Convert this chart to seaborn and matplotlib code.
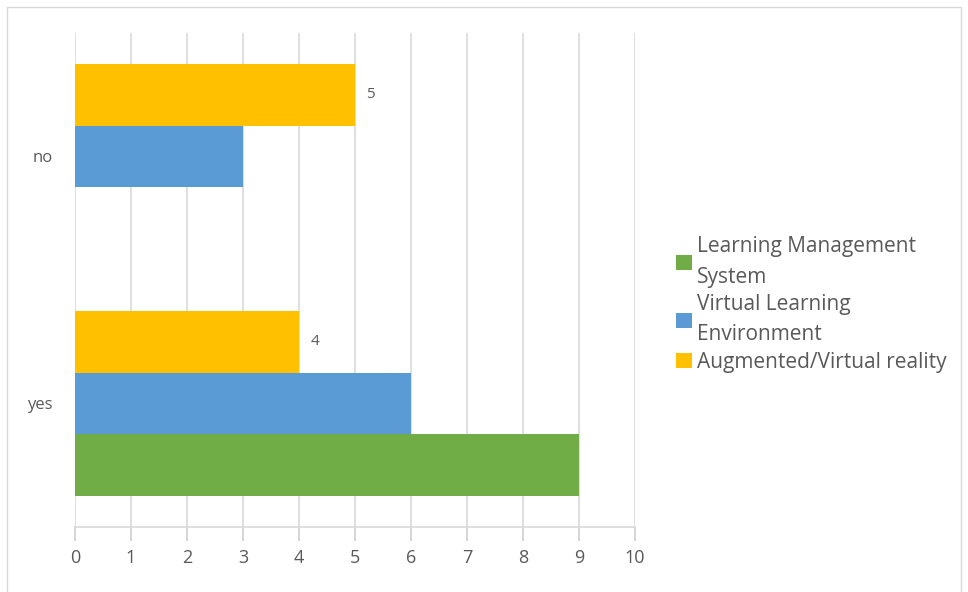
import matplotlib
matplotlib.use("Agg")
import matplotlib.pyplot as plt
from matplotlib.patches import Rectangle, Patch
import pandas as pd
import seaborn as sns

# Survey answers per tool type
categories = ["no", "yes"]
series = ["Learning Management System", "Virtual Learning Environment", "Augmented/Virtual reality"]
lms_values = [0, 9]
vle_values = [3, 6]
avr_values = [5, 4]
x_ticks = list(range(0, 11))

colors = {
    "Learning Management System": "#70AD47",
    "Virtual Learning Environment": "#5B9BD5",
    "Augmented/Virtual reality": "#FFC000",
}
legend_labels = {
    "Learning Management System": "Learning Management\nSystem",
    "Virtual Learning Environment": "Virtual Learning\nEnvironment",
    "Augmented/Virtual reality": "Augmented/Virtual reality",
}

rows = []
for name, vals in zip(series, [lms_values, vle_values, avr_values]):
    for cat, v in zip(categories, vals):
        rows.append({"answer": cat, "tool": name, "count": v})
df = pd.DataFrame(rows)

sns.set_theme(style="white")
plt.rcParams["font.family"] = ["Open Sans", "DejaVu Sans"]

fig = plt.figure(figsize=(9.68, 5.92), dpi=100)
ax = fig.add_axes([0.0775, 0.1098, 0.5785, 0.8345])

# Draw order inside each group: top bar first
hue_order = ["Augmented/Virtual reality", "Virtual Learning Environment", "Learning Management System"]
sns.barplot(data=df, y="answer", x="count", hue="tool", order=categories,
            hue_order=hue_order, palette=colors, saturation=1, orient="h", width=0.75,
            linewidth=0, errorbar=None, legend=False, ax=ax, zorder=3)

# Value labels on the augmented/virtual reality bars
avr_container = ax.containers[0]
ax.bar_label(avr_container, labels=[str(v) for v in avr_values], padding=8,
             color="#595959", fontsize=11)

ax.set_xlim(0, 10.0)
ax.set_ylim(1.5, -0.5)
ax.set_xticks(x_ticks)
ax.set_xlabel("")
ax.set_ylabel("")
ax.grid(axis="x", color="#d9d9d9", linewidth=1.2, zorder=0)
ax.grid(axis="y", visible=False)
for side in ["top", "right", "left"]:
    ax.spines[side].set_visible(False)
ax.spines["bottom"].set_color("#d9d9d9")
ax.spines["bottom"].set_linewidth(1.2)
ax.tick_params(axis="x", bottom=True, colors="#d0d0d0", length=10, width=1.2,
               direction="out", labelcolor="#595959", labelsize=13, pad=6)
ax.tick_params(axis="y", left=False, length=0, labelcolor="#595959", labelsize=12, pad=16)

# Legend with wrapped entries in series order
handles = [Patch(facecolor=colors[s], edgecolor="none") for s in series]
labels = [legend_labels[s] for s in series]
leg = fig.legend(handles, labels, loc="center left", bbox_to_anchor=(0.698, 0.486),
                 frameon=False, fontsize=15, labelcolor="#595959",
                 handlelength=0.78, handleheight=0.78, handletextpad=0.25,
                 labelspacing=0.3, borderpad=0, borderaxespad=0)
for t in leg.get_texts():
    t.set_linespacing(1.6)

# Chart border
fig.patches.append(Rectangle((0.007, -0.01), 0.986, 0.998, transform=fig.transFigure,
                             fill=False, edgecolor="#d9d9d9", linewidth=1))

fig.savefig("out.png", dpi=100, facecolor="white")
